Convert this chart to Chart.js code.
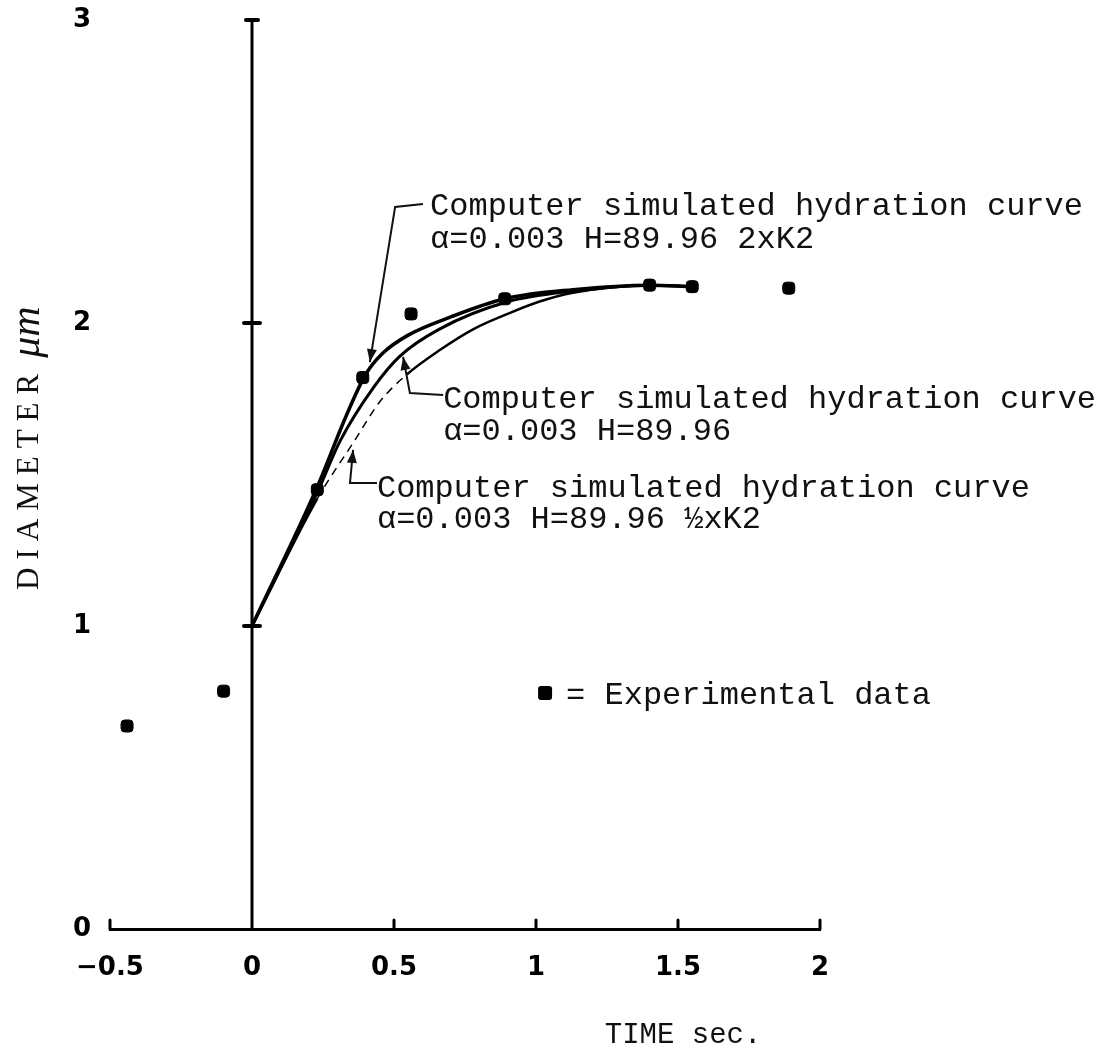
<!DOCTYPE html>
<html>
<head>
<meta charset="utf-8">
<title>Diameter vs time</title>
<script src="https://cdn.jsdelivr.net/npm/chart.js@4.4.0/dist/chart.umd.min.js"></script>
<style>
  html, body { margin: 0; padding: 0; background: #fff; }
  #wrap { width: 1102px; height: 1054px; }
</style>
</head>
<body>
<div id="wrap"><canvas id="hydrationChart" width="1102" height="1054"></canvas></div>
<script>
// experimental data (time in sec, diameter in um)
var expTime = [-0.44, -0.10, 0.23, 0.39, 0.56, 0.89, 1.40, 1.55, 1.89];
var expDiam = [0.67, 0.785, 1.45, 1.82, 2.03, 2.08, 2.125, 2.12, 2.115];

// simulated hydration curves
var time2K = [0, 0.23, 0.33, 0.40, 0.46, 0.55, 0.70, 0.89, 1.13, 1.40, 1.55];
var diam2K = [1.0, 1.46, 1.69, 1.83, 1.90, 1.96, 2.02, 2.08, 2.11, 2.125, 2.12];

var timeK = [0, 0.23, 0.31, 0.43, 0.52, 0.66, 0.90, 1.13, 1.40, 1.55];
var diamK = [1.0, 1.44, 1.61, 1.79, 1.89, 1.98, 2.07, 2.105, 2.125, 2.12];

var timeHalfK = [0, 0.23, 0.36, 0.45, 0.545, 0.66, 0.78, 0.90, 1.01, 1.13, 1.40, 1.55];
var diamHalfK = [1.0, 1.42, 1.61, 1.74, 1.83, 1.91, 1.98, 2.03, 2.07, 2.10, 2.125, 2.12];

var xTicks = [-0.5, 0, 0.5, 1, 1.5, 2];
var xTickLabels = ['\u22120.5', '0', '0.5', '1', '1.5', '2'];
var yTicks = [0, 1, 2, 3];

var curveText = 'Computer simulated hydration curve';
var notes2K = ['α=0.003 H=89.96 2xK2'];
var notesK = ['α=0.003 H=89.96'];
var notesHalfK = ['α=0.003 H=89.96 ½xK2'];

function pairs(xs, ys) {
    return xs.map(function (x, i) { return { x: x, y: ys[i] }; });
}

function arrowHead(ctx, fx, fy, tx, ty) {
    var a = Math.atan2(ty - fy, tx - fx);
    ctx.beginPath();
    ctx.moveTo(tx, ty);
    ctx.lineTo(tx - 13 * Math.cos(a) + 5 * Math.sin(a), ty - 13 * Math.sin(a) - 5 * Math.cos(a));
    ctx.lineTo(tx - 13 * Math.cos(a) - 5 * Math.sin(a), ty - 13 * Math.sin(a) + 5 * Math.cos(a));
    ctx.closePath();
    ctx.fill();
}

var overlay = {
    id: 'overlay',
    beforeDatasetsDraw: function (chart) {
        var ctx = chart.ctx, sx = chart.scales.x, sy = chart.scales.y;
        var x0 = sx.getPixelForValue(0), yBase = sy.getPixelForValue(0);
        ctx.save();
        ctx.strokeStyle = '#000';
        ctx.lineCap = 'round';
        // vertical axis through t = 0
        ctx.lineWidth = 3;
        ctx.beginPath();
        ctx.moveTo(x0, yBase);
        ctx.lineTo(x0, sy.getPixelForValue(3));
        ctx.stroke();
        ctx.lineWidth = 4;
        yTicks.forEach(function (v) {
            if (v === 0) return;
            var py = sy.getPixelForValue(v), w = v === 3 ? 6 : 8;
            ctx.beginPath();
            ctx.moveTo(x0 - w, py);
            ctx.lineTo(x0 + w, py);
            ctx.stroke();
        });
        // small upward ticks on the time axis
        ctx.lineWidth = 3;
        xTicks.forEach(function (v) {
            if (v === 0) return;
            var px = sx.getPixelForValue(v);
            ctx.beginPath();
            ctx.moveTo(px, yBase);
            ctx.lineTo(px, yBase - 9);
            ctx.stroke();
        });
        ctx.restore();
    },
    afterDraw: function (chart) {
        var ctx = chart.ctx, sx = chart.scales.x, sy = chart.scales.y;
        function P(x, y) { return [sx.getPixelForValue(x), sy.getPixelForValue(y)]; }

        var labels = [
            { text: [curveText].concat(notes2K), at: P(0.627, 2.356), gap: 33,
              leader: [P(0.602, 2.393), P(0.504, 2.383), P(0.415, 1.871)] },
            { text: [curveText].concat(notesK), at: P(0.673, 1.72), gap: 32,
              leader: [P(0.673, 1.762), P(0.556, 1.769), P(0.532, 1.888)] },
            { text: [curveText].concat(notesHalfK), at: P(0.44, 1.426), gap: 31,
              leader: [P(0.44, 1.472), P(0.345, 1.472), P(0.356, 1.581)] }
        ];

        ctx.save();
        ctx.fillStyle = '#111';
        ctx.strokeStyle = '#111';
        ctx.lineWidth = 2;
        ctx.font = '32px "Liberation Mono"';
        ctx.textAlign = 'left';
        ctx.textBaseline = 'alphabetic';
        labels.forEach(function (l) {
            l.text.forEach(function (t, i) { ctx.fillText(t, l.at[0], l.at[1] + i * l.gap); });
            var p = l.leader;
            ctx.beginPath();
            ctx.moveTo(p[0][0], p[0][1]);
            for (var i = 1; i < p.length; i++) ctx.lineTo(p[i][0], p[i][1]);
            ctx.stroke();
            var n = p.length;
            arrowHead(ctx, p[n - 2][0], p[n - 2][1], p[n - 1][0], p[n - 1][1]);
        });

        // key for the experimental points
        var k = P(1.032, 0.779);
        ctx.fillStyle = '#000';
        ctx.beginPath();
        ctx.roundRect(k[0] - 7, k[1] - 7, 14, 14, 3);
        ctx.fill();
        var kt = P(1.106, 0.743);
        ctx.fillStyle = '#111';
        ctx.fillText('= Experimental data', kt[0], kt[1]);

        // axis titles
        var tt = P(1.518, -0.376);
        ctx.font = '29px "Liberation Mono"';
        ctx.textAlign = 'center';
        ctx.fillText('TIME sec.', tt[0], tt[1]);

        var yt = P(-0.782, 1.119);
        ctx.translate(yt[0], yt[1]);
        ctx.rotate(-Math.PI / 2);
        ctx.textAlign = 'left';
        ctx.textBaseline = 'middle';
        ctx.font = '31px "Liberation Serif"';
        if ('letterSpacing' in ctx) ctx.letterSpacing = '8px';
        ctx.fillText('DIAMETER', 0, 0);
        var w = ctx.measureText('DIAMETER').width;
        if ('letterSpacing' in ctx) ctx.letterSpacing = '0px';
        ctx.font = 'italic 42px "Liberation Serif"';
        ctx.fillText('μm', w + 8, -2);
        ctx.restore();
    }
};

var tickFont = { family: 'DejaVu Sans', size: 26, weight: 'bold' };

var ctx = document.getElementById('hydrationChart').getContext('2d');
var hydrationChart = new Chart(ctx, {
    type: 'scatter',
    data: {
        datasets: [{
            label: 'Experimental data',
            data: pairs(expTime, expDiam),
            pointStyle: 'rectRounded',
            pointRadius: 7,
            backgroundColor: '#000',
            borderColor: '#000',
            showLine: false
        }, {
            label: '2xK2',
            data: pairs(time2K, diam2K),
            showLine: true,
            cubicInterpolationMode: 'monotone',
            borderColor: '#000',
            borderWidth: 3.5,
            pointRadius: 0
        }, {
            label: 'K2',
            data: pairs(timeK, diamK),
            showLine: true,
            cubicInterpolationMode: 'monotone',
            borderColor: '#000',
            borderWidth: 3,
            pointRadius: 0
        }, {
            label: '1/2xK2',
            data: pairs(timeHalfK, diamHalfK),
            showLine: true,
            cubicInterpolationMode: 'monotone',
            borderColor: '#000',
            borderWidth: 2.5,
            pointRadius: 0,
            segment: {
                borderDash: function (c) {
                    return (c.p0.parsed.x >= 0.2 && c.p1.parsed.x <= 0.55) ? [8, 6] : undefined;
                },
                borderWidth: function (c) {
                    return (c.p0.parsed.x >= 0.2 && c.p1.parsed.x <= 0.55) ? 1.5 : undefined;
                }
            }
        }]
    },
    options: {
        responsive: false,
        devicePixelRatio: 1,
        animation: false,
        layout: { padding: { left: 0, right: 282, top: 20, bottom: 0 } },
        plugins: {
            legend: { display: false },
            tooltip: { enabled: false }
        },
        scales: {
            x: {
                type: 'linear',
                min: -0.5,
                max: 2,
                afterBuildTicks: function (s) { s.ticks = xTicks.map(function (v) { return { value: v }; }); },
                afterFit: function (s) { s.height = 125; },
                ticks: {
                    color: '#000', font: tickFont, padding: 24, maxRotation: 0,
                    callback: function (v, i) { return xTickLabels[i]; }
                },
                grid: { display: false, drawTicks: false },
                border: { display: true, color: '#000', width: 3 }
            },
            y: {
                type: 'linear',
                min: 0,
                max: 3,
                afterBuildTicks: function (s) { s.ticks = yTicks.map(function (v) { return { value: v }; }); },
                afterFit: function (s) { s.width = 110; s.paddingTop = 0; s.paddingBottom = 0; },
                ticks: { color: '#000', font: tickFont, padding: 19 },
                grid: { display: false, drawTicks: false },
                border: { display: false }
            }
        }
    },
    plugins: [overlay]
});
</script>
</body>
</html>
